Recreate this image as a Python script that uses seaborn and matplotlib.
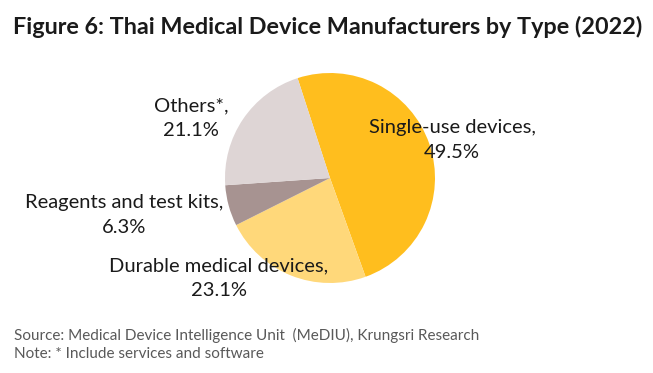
import matplotlib
matplotlib.use("Agg")
import matplotlib.pyplot as plt
import seaborn as sns

sns.set_theme(style="white")
plt.rcParams['font.family'] = ['Lato', 'DejaVu Sans']

categories = ["Single-use devices", "Durable medical devices", "Reagents and test kits", "Others*"]
shares = [49.5, 23.1, 6.3, 21.1]
colors = ["#FFBE1E", "#FFD87A", "#A79391", "#DED5D5"]
title = "Figure 6: Thai Medical Device Manufacturers by Type (2022)"
source = "Source: Medical Device Intelligence Unit  (MeDIU), Krungsri Research"
note = "Note: * Include services and software"

W, H = 653, 373
fig = plt.figure(figsize=(W / 100, H / 100), dpi=100)
cx, cy, r = 330, 178, 105
ax = fig.add_axes([(cx - r) / W, (H - cy - r) / H, 2 * r / W, 2 * r / H])
ax.pie(shares, colors=colors, startangle=108, counterclock=False,
       wedgeprops=dict(linewidth=0))
ax.set_xlim(-1, 1)
ax.set_ylim(-1, 1)
ax.set_aspect("auto")
ax.axis("off")

def px(x, y):
    return x / W, 1 - y / H

label_pos = [(452, 140), (219, 278), (124, 215), (191, 118)]
for cat, val, (x, y) in zip(categories, shares, label_pos):
    fig.text(*px(x, y), f"{cat},\n{val:.1f}%", ha="center", va="center", fontsize=14.5,
             color="#1a1a1a", linespacing=1.55)

fig.text(*px(328, 27), title, ha="center", va="center", fontsize=16.8,
         fontweight="bold", color="#1a1a1a")
fig.text(*px(14, 335), source, ha="left", va="center", fontsize=11, color="#595959")
fig.text(*px(14, 354), note, ha="left", va="center", fontsize=11, color="#595959")

fig.savefig("out.png", dpi=100, facecolor="white")
